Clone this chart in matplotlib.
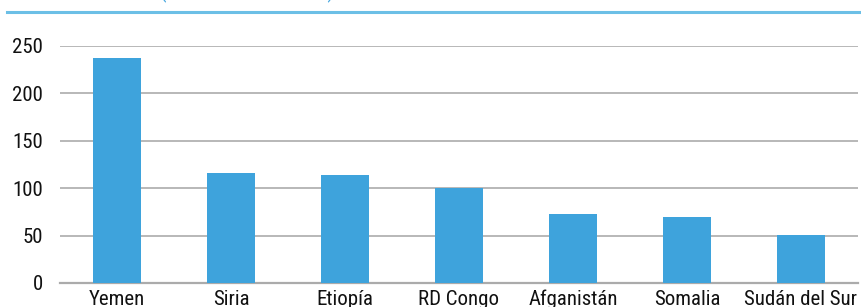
import matplotlib
matplotlib.use("Agg")
import matplotlib.pyplot as plt
from matplotlib import font_manager

countries = ["Yemen", "Siria", "Etiopía", "RD Congo", "Afganistán", "Somalia", "Sudán del Sur"]
values = [237, 116, 114, 100, 73, 70, 51]
yticks = [0, 50, 100, 150, 200, 250]

# prefer a condensed face, like the original's
names = {f.name for f in font_manager.fontManager.ttflist}
family, size = "DejaVu Sans", 12.5
for cand, sz in [("Liberation Sans Narrow", 15), ("Roboto Condensed", 15), ("Roboto", 13.5)]:
    if cand in names:
        family, size = cand, sz
        break
plt.rcParams["font.family"] = [family, "DejaVu Sans"]

W, H = 861, 307
fig = plt.figure(figsize=(W / 100, H / 100), dpi=100)
ax = fig.add_axes([60 / W, 1 - 283 / H, 798 / W, (283 - 46) / H])

x = range(len(countries))
ax.bar(x, values, width=0.42, color="#3ea3dc", zorder=3)

ax.set_xlim(-0.5, len(countries) - 0.5)
ax.set_ylim(0, 250)
ax.set_yticks(yticks)
ax.set_xticks(list(x))
ax.set_xticklabels(countries)
ax.yaxis.grid(True, color="#ababab", linewidth=1.2, zorder=0)
for side in ("top", "right", "left"):
    ax.spines[side].set_visible(False)
ax.spines["bottom"].set_color("#ababab")
ax.spines["bottom"].set_linewidth(1.6)
ax.tick_params(axis="both", length=0, labelsize=size, colors="#111111")
ax.tick_params(axis="x", pad=5)
ax.tick_params(axis="y", pad=12)

# header rule and the clipped title from the page above
fig.add_artist(plt.Line2D([7 / W, 1], [1 - 12 / H, 1 - 12 / H], color="#6cbfe6", linewidth=2.2))
fig.text(160 / W, 1 + 1.5 / H, "(millones de dólares) 2019", ha="left", va="baseline",
         color="#4aa8e0", fontsize=15)

fig.savefig("out.png", dpi=100)
